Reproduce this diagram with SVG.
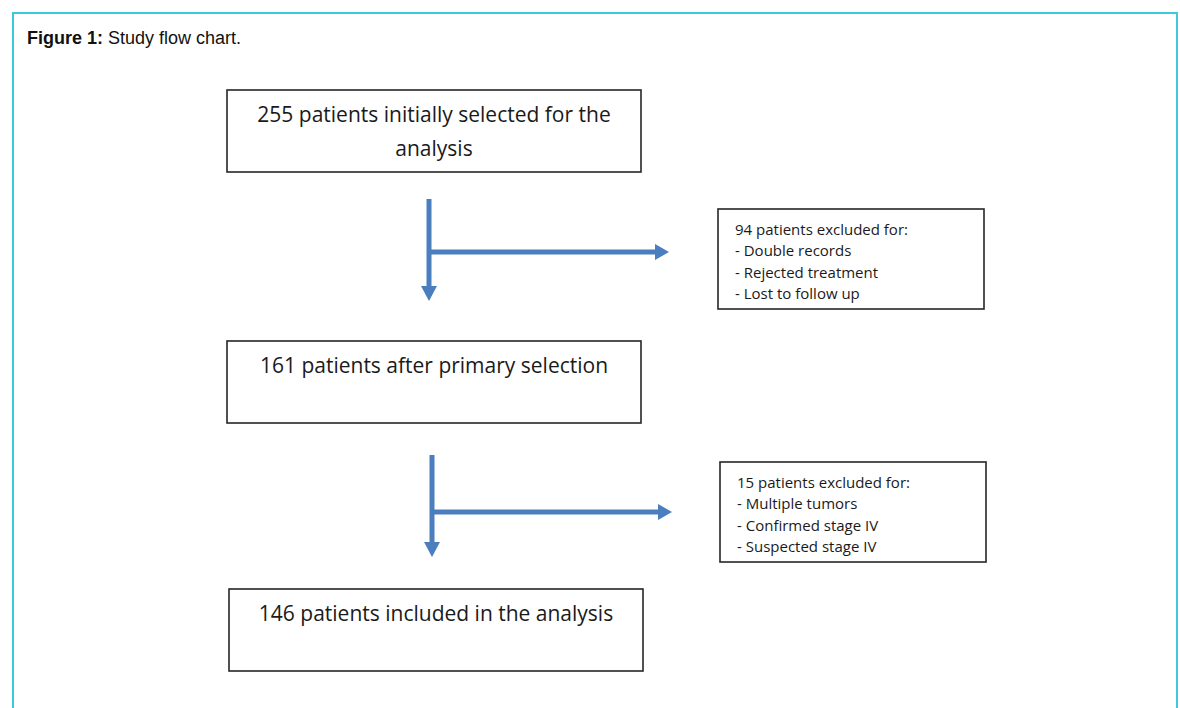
<svg xmlns="http://www.w3.org/2000/svg" width="1180" height="708" viewBox="0 0 1180 708">
<defs>
<style>
.frame{fill:#fff;stroke:#3ec8dc;stroke-width:2}
.box{fill:#fff;stroke:#262626;stroke-width:1.6}
.main{font-family:"Open Sans","Liberation Sans",sans-serif;font-size:21px;fill:#1a1a1a;text-anchor:middle}
.ex{font-family:"Open Sans","Liberation Sans",sans-serif;font-size:15px;fill:#1a1a1a}
.cap{font-family:"Liberation Sans",Arial,sans-serif;font-size:18px;fill:#111}
.arr{stroke:#4a7ebf;stroke-width:5;fill:none}
.head{fill:#4a7ebf}
</style>
</defs>
<rect width="1180" height="708" fill="#fff"/>
<rect class="frame" x="13" y="13" width="1164" height="710"/>
<text class="cap" x="27" y="44"><tspan font-weight="bold">Figure 1:</tspan> Study flow chart.</text>
<g id="connectors">
<path class="arr" d="M429 199 V286 M429 252 H656"/>
<polygon class="head" points="421,286 437,286 429,301"/>
<polygon class="head" points="655,244 655,260 669,252"/>
<path class="arr" d="M432 455 V542 M432 512 H659"/>
<polygon class="head" points="424,542 440,542 432,557"/>
<polygon class="head" points="658,504 658,520 672,512"/>
</g>
<g id="n1">
<rect class="box" x="227" y="90" width="414" height="82"/>
<text class="main" x="434" y="122">255 patients initially selected for the</text>
<text class="main" x="434" y="156">analysis</text>
</g>
<g id="n2">
<rect class="box" x="718" y="209" width="266" height="100"/>
<text class="ex" x="735" y="235">94 patients excluded for:</text>
<text class="ex" x="735" y="256">- Double records</text>
<text class="ex" x="735" y="278">- Rejected treatment</text>
<text class="ex" x="735" y="299">- Lost to follow up</text>
</g>
<g id="n3">
<rect class="box" x="227" y="341" width="414" height="82"/>
<text class="main" x="434" y="373">161 patients after primary selection</text>
</g>
<g id="n4">
<rect class="box" x="720" y="462" width="266" height="100"/>
<text class="ex" x="737" y="488">15 patients excluded for:</text>
<text class="ex" x="737" y="509">- Multiple tumors</text>
<text class="ex" x="737" y="531">- Confirmed stage IV</text>
<text class="ex" x="737" y="552">- Suspected stage IV</text>
</g>
<g id="n5">
<rect class="box" x="229" y="589" width="414" height="82"/>
<text class="main" x="436" y="621">146 patients included in the analysis</text>
</g>
</svg>
